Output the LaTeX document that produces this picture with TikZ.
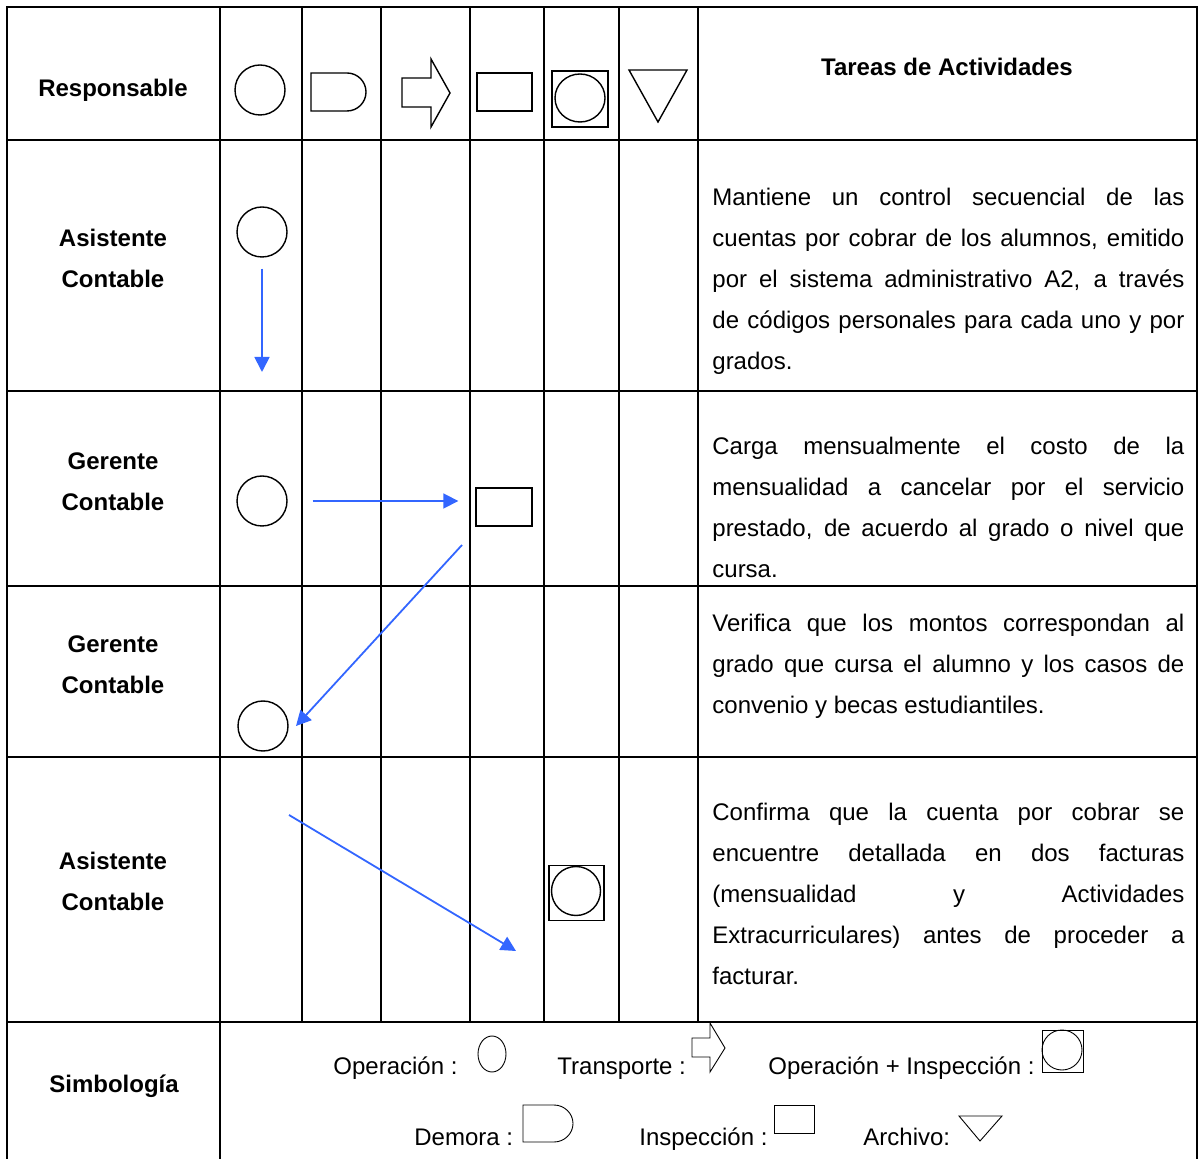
\documentclass[tikz,border=0pt]{standalone}
\usepackage{fontspec}
\setmainfont{Liberation Sans}
\usetikzlibrary{arrows.meta}
\definecolor{azul}{RGB}{51,102,255}
\tolerance=10000
\hbadness=10000
\hyphenpenalty=10000

\begin{document}
\begin{tikzpicture}[x = 0.5pt, y = -0.5pt,
    linea/.style = {line width = 1pt, line cap = rect},
    simbolo/.style = {draw, line width = 0.7pt, inner sep = 0pt},
    fino/.style = {draw, line width = 0.45pt, inner sep = 0pt},
    operacion/.style = {circle, simbolo, minimum size = 25pt},
    inspeccion/.style = {rectangle, simbolo, minimum width = 28pt, minimum height = 19pt},
    opinsp/.style = {rectangle, simbolo, minimum size = 27.5pt},
    flujo/.style = {line width = 0.9pt, azul, -{Triangle[length = 7.5pt, width = 7.5pt]}},
    responsable/.style = {font = \bfseries\fontsize{12}{20.5}\selectfont, align = center},
    tarea/.style = {font = \fontsize{12}{20.5}\selectfont, text width = 236pt, align = justify, anchor = base west, inner sep = 0pt},
    leyenda/.style = {font = \fontsize{12}{14}\selectfont, anchor = base west, inner sep = 0pt}]
    \useasboundingbox (0,0) rectangle (1199,1159);
    \foreach \y in {7, 140, 391, 586, 757, 1022}
    \draw[linea] (7,\y) -- (1197,\y);
    \foreach \x in {302, 381, 470, 544, 619, 698}
    \draw[linea] (\x,7) -- (\x,1022);
    \foreach \x in {7, 220, 1197}
    \draw[linea] (\x,7) -- (\x,1159);
    \node (resp) at (113,90) [responsable] {Responsable};
    \node (tareas) at (947,67) [responsable] {Tareas de Actividades};
    \draw[simbolo] (260,90) circle [radius = 25];
    \draw[simbolo] (311,73) -- (347,73) .. controls (357.5,73) and (366,81.5) .. (366,92) .. controls (366,102.5) and (357.5,111) .. (347,111) -- (311,111) -- cycle;
    \draw[simbolo] (402,78) -- (431,78) -- (431,59) -- (450,93) -- (431,127) -- (431,107) -- (402,107) -- cycle;
    \draw[simbolo] (477,73) rectangle (532,111);
    \draw[simbolo] (552,71) rectangle (608,127);
    \draw[simbolo] (580,98) ellipse [x radius = 25, y radius = 24];
    \draw[simbolo] (629,70) -- (687,70) -- (658,122) -- cycle;
    \node (asist1) at (113,258.5) [responsable] {Asistente\\Contable};
    \node (op1) at (262,232) [operacion] {};
    \coordinate (fin1) at (262,372);
    \draw[flujo, shorten <= 5.5pt] (op1) -- (fin1);
    \node (tarea1) at (712,205.5) [tarea] {Mantiene un control secuencial de las\linebreak cuentas por cobrar de los alumnos, emitido\linebreak por el sistema administrativo A2, a través\linebreak de códigos personales para cada uno y por\linebreak grados.};
    \node (ger2) at (113,481.5) [responsable] {Gerente\\Contable};
    \node (op2) at (262,501) [operacion] {};
    \node (insp2) at (504,507) [inspeccion] {};
    \draw[flujo, shorten <= 12.5pt, shorten >= 8.5pt] (op2.east) -- (op2.east -| insp2.west);
    \node (tarea2) at (712,454.5) [tarea] {Carga mensualmente el costo de la\linebreak mensualidad a cancelar por el servicio\linebreak prestado, de acuerdo al grado o nivel que\linebreak cursa.};
    \node (ger3) at (113,664.5) [responsable] {Gerente\\Contable};
    \node (op3) at (263,726) [operacion] {};
    \coordinate (ini3) at (462,545);
    \coordinate (fin3) at (296,726);
    \draw[flujo] (ini3) -- (fin3);
    \node (tarea3) at (712,631.5) [tarea] {Verifica que los montos correspondan al\linebreak grado que cursa el alumno y los casos de\linebreak convenio y becas estudiantiles.};
    \node (asist4) at (113,881.5) [responsable] {Asistente\\Contable};
    \node (cuadro4) at (576.5,893) [opinsp] {};
    \node (op4) at (576,891) [operacion, minimum size = 24.5pt] {};
    \coordinate (ini4) at (289,815);
    \coordinate (fin4) at (516,951);
    \draw[flujo] (ini4) -- (fin4);
    \node (tarea4) at (712,820) [tarea] {Confirma que la cuenta por cobrar se\linebreak encuentre detallada en dos facturas\linebreak (mensualidad y Actividades\linebreak Extracurriculares) antes de proceder a\linebreak facturar.};
    \node (simb) at (114,1086) [responsable] {Simbología};
    \node (ley1) at (333,1074) [leyenda] {Operación :};
    \draw[fino] (492,1054) ellipse [x radius = 14, y radius = 18];
    \node (ley2) at (557,1074) [leyenda] {Transporte :};
    \draw[fino] (692,1038) -- (710,1038) -- (710,1023) -- (725,1048) -- (710,1072) -- (710,1057) -- (692,1057) -- cycle;
    \node (ley3) at (768,1074) [leyenda] {Operación + Inspección :};
    \draw[fino] (1042,1030) rectangle (1083,1072);
    \draw[fino] (1062,1050) circle [radius = 20];
    \node (ley4) at (414,1145) [leyenda] {Demora :};
    \draw[fino] (523,1105) -- (554,1105) .. controls (564.5,1105) and (573,1113.5) .. (573,1123.5) .. controls (573,1133.5) and (564.5,1142) .. (554,1142) -- (523,1142) -- cycle;
    \node (ley5) at (639,1145) [leyenda] {Inspección :};
    \draw[fino] (774,1105) rectangle (814,1133);
    \node (ley6) at (863,1145) [leyenda] {Archivo:};
    \draw[fino] (959,1116) -- (1002,1116) -- (980,1141) -- cycle;
\end{tikzpicture}
\end{document}
